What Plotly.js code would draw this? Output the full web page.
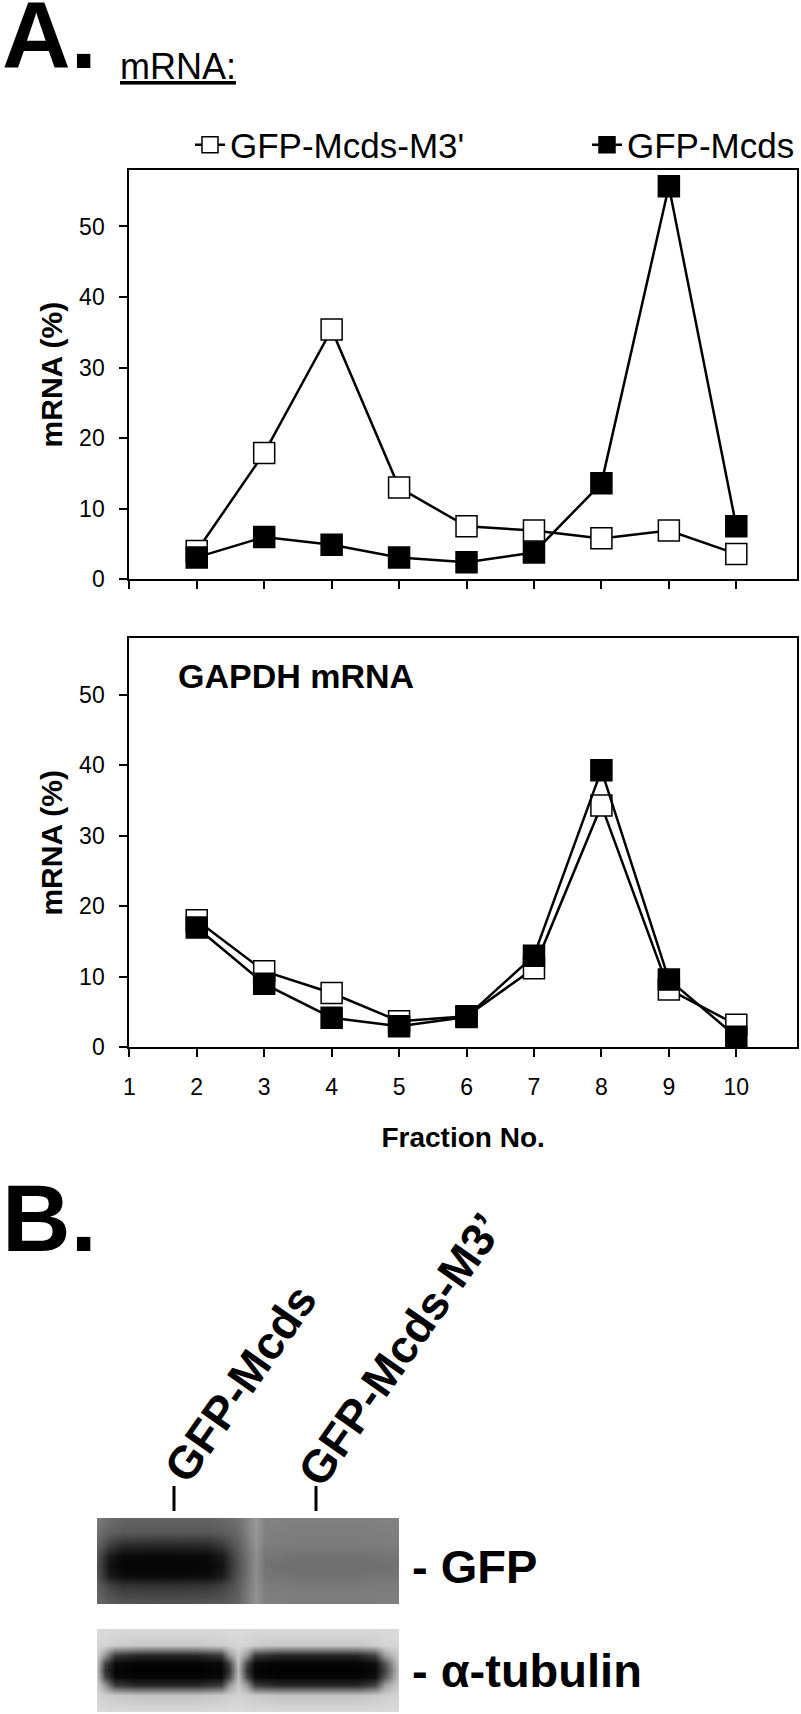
<!DOCTYPE html>
<html>
<head>
<meta charset="utf-8">
<script src="https://cdn.plot.ly/plotly-3.0.1.min.js"></script>
<style>
  html, body { margin: 0; padding: 0; background: #fff; }
  #chart { width: 801px; height: 1714px; }
</style>
</head>
<body>
<div id="chart"></div>
<script>
// fractions of the gradient
const fractions = [2, 3, 4, 5, 6, 7, 8, 9, 10];
const tickFractions = [1, 2, 3, 4, 5, 6, 7, 8, 9, 10];

// GFP reporter mRNA (%) per fraction
const m3Reporter = [4.0, 17.9, 35.4, 13.0, 7.5, 6.9, 5.8, 6.9, 3.6];
const mcdsReporter = [3.1, 6.0, 4.9, 3.1, 2.4, 3.8, 13.6, 55.7, 7.5];

// GAPDH mRNA (%) per fraction
const m3Gapdh = [18.0, 10.8, 7.7, 3.7, 4.4, 11.2, 34.3, 8.2, 3.2];
const mcdsGapdh = [17.0, 9.0, 4.2, 3.0, 4.3, 13.0, 39.3, 9.6, 1.5];

const seriesNames = ["GFP-Mcds-M3'", "GFP-Mcds"];

// western blot, grey level (0 = black, 255 = white) sampled across the lanes
const gfpBlotX = [0, 12, 25, 60, 110, 125, 140, 159, 168, 200, 260, 302];
const gfpBlotY = [0, 14, 28, 38, 48, 58, 68, 86];
const gfpBlot = [
  [122, 108, 100, 100, 100, 104, 112, 152, 130, 128, 128, 130],
  [112, 98, 90, 88, 88, 92, 105, 150, 128, 126, 126, 128],
  [98, 62, 40, 35, 38, 55, 92, 146, 124, 122, 122, 124],
  [84, 28, 10, 8, 10, 26, 82, 142, 118, 114, 114, 118],
  [80, 18, 5, 4, 6, 18, 78, 142, 114, 110, 110, 114],
  [84, 28, 12, 10, 12, 28, 82, 142, 118, 114, 114, 118],
  [96, 70, 55, 52, 55, 65, 90, 144, 124, 122, 122, 124],
  [106, 92, 88, 86, 88, 90, 98, 148, 128, 126, 126, 128],
];

const tubBlotX = [0, 8, 18, 40, 100, 124, 132, 141, 150, 158, 180, 260, 278, 288, 302];
const tubBlotY = [0, 16, 26, 34, 41, 48, 56, 66, 83];
const tubBlot = [
  [218, 218, 218, 218, 218, 218, 218, 218, 218, 218, 218, 218, 218, 218, 218],
  [215, 212, 205, 200, 200, 205, 210, 214, 210, 205, 200, 200, 205, 212, 215],
  [205, 150, 60, 40, 40, 60, 150, 200, 150, 60, 40, 40, 70, 160, 205],
  [195, 70, 10, 5, 5, 10, 70, 190, 70, 10, 5, 5, 15, 90, 200],
  [190, 50, 5, 2, 2, 5, 50, 185, 50, 5, 2, 2, 10, 70, 195],
  [195, 70, 10, 5, 5, 10, 70, 190, 70, 10, 5, 5, 15, 90, 200],
  [205, 150, 60, 40, 40, 60, 150, 200, 150, 60, 40, 40, 70, 160, 205],
  [212, 205, 200, 195, 195, 200, 205, 210, 205, 200, 195, 195, 200, 205, 212],
  [218, 218, 218, 218, 218, 218, 218, 218, 218, 218, 218, 218, 218, 218, 218],
];

const SANS = "Liberation Sans, Arial, sans-serif";
const W = 801;
const H = 1714;
// helpers: pixel -> paper
const px = (v) => v / W;
const py = (v) => 1 - v / H;

function lineTrace(y, name, filled, xa, ya, legendId) {
  return {
    x: fractions,
    y: y,
    name: name,
    xaxis: xa,
    yaxis: ya,
    type: "scatter",
    mode: "lines+markers",
    showlegend: !!legendId,
    legend: legendId || "legend",
    line: { color: "black", width: 2.5 },
    marker: {
      symbol: "square",
      size: 21,
      color: filled ? "black" : "white",
      line: { color: "black", width: 1.5 },
    },
    hoverinfo: "skip",
  };
}

const greys = [
  [0, "rgb(0,0,0)"],
  [1, "rgb(255,255,255)"],
];

const traces = [
  lineTrace(m3Reporter, seriesNames[0], false, "x", "y", "legend"),
  lineTrace(mcdsReporter, seriesNames[1], true, "x", "y", "legend2"),
  lineTrace(m3Gapdh, seriesNames[0], false, "x2", "y2", null),
  lineTrace(mcdsGapdh, seriesNames[1], true, "x2", "y2", null),
  {
    type: "heatmap",
    x: gfpBlotX,
    y: gfpBlotY,
    z: gfpBlot,
    xaxis: "x3",
    yaxis: "y3",
    colorscale: greys,
    zmin: 0,
    zmax: 255,
    zsmooth: "best",
    showscale: false,
    hoverinfo: "skip",
  },
  {
    type: "heatmap",
    x: tubBlotX,
    y: tubBlotY,
    z: tubBlot,
    xaxis: "x4",
    yaxis: "y4",
    colorscale: greys,
    zmin: 0,
    zmax: 255,
    zsmooth: "best",
    showscale: false,
    hoverinfo: "skip",
  },
];

const tickFont = { family: SANS, size: 23, color: "black" };

function fracAxis(domain, anchor, showLabels) {
  return {
    domain: domain,
    anchor: anchor,
    range: [1, 10.9],
    tickvals: tickFractions,
    ticktext: tickFractions.map(String),
    showticklabels: showLabels,
    ticks: "outside",
    ticklen: 8,
    tickwidth: 2,
    tickcolor: "black",
    ticklabelstandoff: 10,
    showline: true,
    mirror: true,
    linecolor: "black",
    linewidth: 2,
    showgrid: false,
    zeroline: false,
    tickfont: tickFont,
  };
}

function pctAxis(domain, anchor) {
  return {
    domain: domain,
    anchor: anchor,
    range: [0, 58],
    tick0: 0,
    dtick: 10,
    ticks: "outside",
    ticklen: 8,
    tickwidth: 2,
    tickcolor: "black",
    ticklabelstandoff: 10,
    showline: true,
    mirror: true,
    linecolor: "black",
    linewidth: 2,
    showgrid: false,
    zeroline: false,
    tickfont: tickFont,
    title: {
      text: "mRNA (%)",
      standoff: 8,
      font: { family: SANS, size: 30, weight: "bold", color: "black" },
    },
  };
}

function blotAxis(domain, anchor, range) {
  return {
    domain: domain,
    anchor: anchor,
    range: range,
    visible: false,
    fixedrange: true,
  };
}

const xBottom = fracAxis([px(129.3), px(797)], "y2", true);
xBottom.title = {
  text: "Fraction No.",
  standoff: 28,
  font: { family: SANS, size: 28, weight: "bold", color: "black" },
};

function legendAt(left) {
  return {
    orientation: "h",
    x: px(left),
    xanchor: "left",
    y: py(145),
    yanchor: "middle",
    font: { family: SANS, size: 35, color: "black" },
    bgcolor: "rgba(0,0,0,0)",
    itemclick: false,
  };
}

const layout = {
  width: W,
  height: H,
  margin: { l: 0, r: 0, t: 0, b: 0 },
  paper_bgcolor: "white",
  plot_bgcolor: "white",
  font: { family: SANS, color: "black" },
  showlegend: true,
  legend: legendAt(190),
  legend2: legendAt(587),
  xaxis: fracAxis([px(129.3), px(797)], "y", false),
  yaxis: pctAxis([py(579.3), py(170)], "x"),
  xaxis2: xBottom,
  yaxis2: pctAxis([py(1047.3), py(638.3)], "x2"),
  xaxis3: blotAxis([px(97), px(399)], "y3", [0, 302]),
  yaxis3: blotAxis([py(1604), py(1518)], "x3", [86, 0]),
  xaxis4: blotAxis([px(97), px(399)], "y4", [0, 302]),
  yaxis4: blotAxis([py(1712), py(1629)], "x4", [83, 0]),
  shapes: [
    // lane markers above the blot
    { type: "line", xref: "paper", yref: "paper", x0: px(174), x1: px(174), y0: py(1486), y1: py(1511), line: { color: "black", width: 3 } },
    { type: "line", xref: "paper", yref: "paper", x0: px(316), x1: px(316), y0: py(1486), y1: py(1511), line: { color: "black", width: 3 } },
  ],
  annotations: [
    {
      text: "<b>A.</b>",
      xref: "paper", yref: "paper",
      x: 0, y: py(35), xanchor: "left", yanchor: "middle",
      showarrow: false,
      font: { family: SANS, size: 95, color: "black" },
    },
    {
      text: "<u>mRNA:</u>",
      xref: "paper", yref: "paper",
      x: px(118), y: py(66), xanchor: "left", yanchor: "middle",
      showarrow: false,
      font: { family: SANS, size: 36, color: "black" },
    },
    {
      text: "<b>GAPDH mRNA</b>",
      xref: "paper", yref: "paper",
      x: px(176), y: py(676), xanchor: "left", yanchor: "middle",
      showarrow: false,
      font: { family: SANS, size: 34, color: "black" },
    },
    {
      text: "<b>B.</b>",
      xref: "paper", yref: "paper",
      x: 0, y: py(1218), xanchor: "left", yanchor: "middle",
      showarrow: false,
      font: { family: SANS, size: 95, color: "black" },
    },
    {
      text: "<b>GFP-Mcds</b>",
      xref: "paper", yref: "paper",
      x: px(240), y: py(1384), xanchor: "center", yanchor: "middle",
      textangle: -55,
      showarrow: false,
      font: { family: SANS, size: 46, color: "black" },
    },
    {
      text: "<b>GFP-Mcds-M3’</b>",
      xref: "paper", yref: "paper",
      x: px(400), y: py(1350), xanchor: "center", yanchor: "middle",
      textangle: -55,
      showarrow: false,
      font: { family: SANS, size: 46, color: "black" },
    },
    {
      text: "<b>- GFP</b>",
      xref: "paper", yref: "paper",
      x: px(410), y: py(1566), xanchor: "left", yanchor: "middle",
      showarrow: false,
      font: { family: SANS, size: 47, color: "black" },
    },
    {
      text: "<b>- α-tubulin</b>",
      xref: "paper", yref: "paper",
      x: px(410), y: py(1670), xanchor: "left", yanchor: "middle",
      showarrow: false,
      font: { family: SANS, size: 47, color: "black" },
    },
  ],
};

Plotly.newPlot("chart", traces, layout, { displayModeBar: false, staticPlot: true });
</script>
</body>
</html>
